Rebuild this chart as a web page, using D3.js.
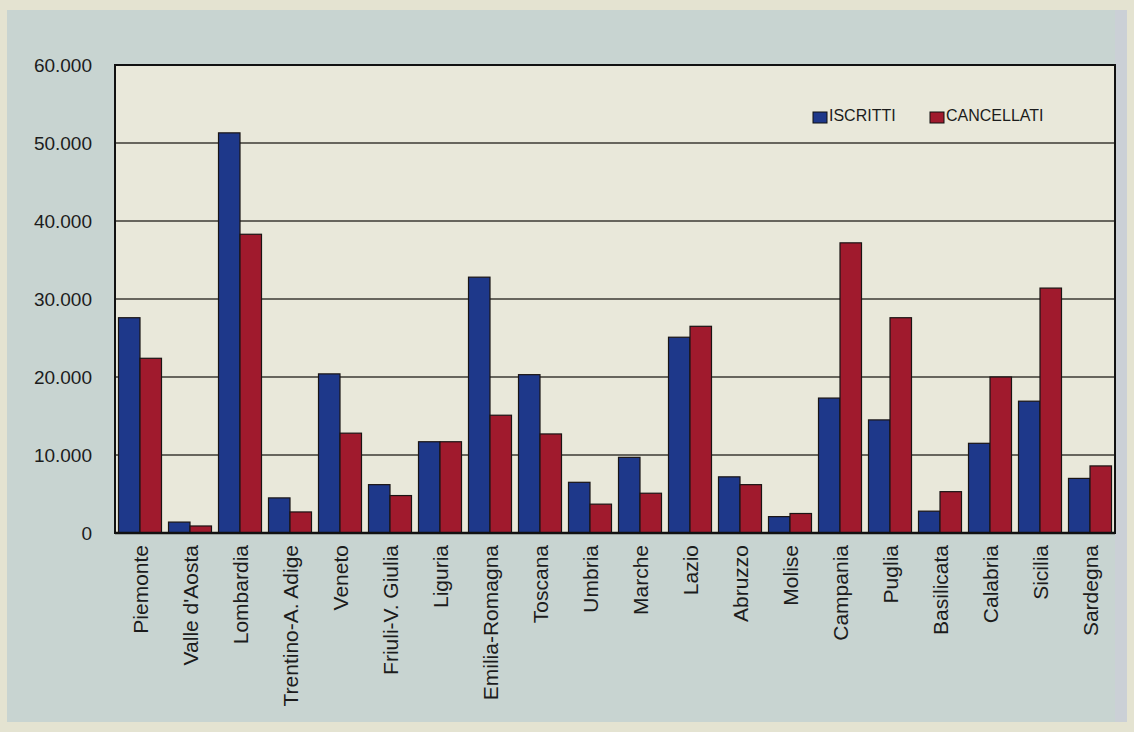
<!DOCTYPE html>
<html>
<head>
<meta charset="utf-8">
<script src="https://cdn.jsdelivr.net/npm/d3@7"></script>
<style>
  html, body { margin: 0; padding: 0; background: #e4e3d1; }
  svg { display: block; }
</style>
</head>
<body>
<svg id="chart" width="1134" height="732"></svg>
<script>
const regions = ["Piemonte","Valle d'Aosta","Lombardia","Trentino-A. Adige","Veneto","Friuli-V. Giulia","Liguria","Emilia-Romagna","Toscana","Umbria","Marche","Lazio","Abruzzo","Molise","Campania","Puglia","Basilicata","Calabria","Sicilia","Sardegna"];
const iscritti = [27600, 1400, 51300, 4500, 20400, 6200, 11700, 32800, 20300, 6500, 9700, 25100, 7200, 2100, 17300, 14500, 2800, 11500, 16900, 7000];
const cancellati = [22400, 900, 38300, 2700, 12800, 4800, 11700, 15100, 12700, 3700, 5100, 26500, 6200, 2500, 37200, 27600, 5300, 20000, 31400, 8600];
const seriesNames = ["ISCRITTI", "CANCELLATI"];
const seriesColors = ["#1e388a", "#a01a2d"];
const yTicks = [0, 10000, 20000, 30000, 40000, 50000, 60000];

const svg = d3.select("#chart");
const W = 1134, H = 732;
const plot = {left: 115, right: 1115, top: 65, bottom: 533};
const font = "'Liberation Sans', Arial, Helvetica, sans-serif";

// outer panel
svg.append("rect").attr("x", 0).attr("y", 0).attr("width", W).attr("height", H).attr("fill", "#e4e3d1");
svg.append("rect").attr("x", 7).attr("y", 10).attr("width", 1120).attr("height", 712).attr("fill", "#c8d4d1");
svg.append("rect").attr("x", 1115).attr("y", 10).attr("width", 12).attr("height", 712).attr("fill", "#cbd0d6");

// plot background
svg.append("rect").attr("x", plot.left).attr("y", plot.top)
  .attr("width", plot.right - plot.left).attr("height", plot.bottom - plot.top)
  .attr("fill", "#e9e8da");

const x0 = d3.scaleBand().domain(regions).range([plot.left, plot.right]).paddingInner(0.14).paddingOuter(0.07);
const x1 = d3.scaleBand().domain(seriesNames).range([0, x0.bandwidth()]).padding(0);
const y = d3.scaleLinear().domain([0, 60000]).range([plot.bottom, plot.top]);

const itLocale = d3.formatLocale({decimal: ",", thousands: ".", grouping: [3], currency: ["€", ""]});
const fmt = itLocale.format(",d");

// gridlines
svg.append("g").selectAll("line").data(yTicks.filter(d => d > 0 && d < 60000)).join("line")
  .attr("x1", plot.left).attr("x2", plot.right)
  .attr("y1", d => y(d)).attr("y2", d => y(d))
  .attr("stroke", "#3b3a33").attr("stroke-width", 1.6);

// y axis labels via d3 axis
const yAxis = d3.axisLeft(y).tickValues(yTicks).tickFormat(fmt).tickSize(0).tickPadding(23);
const gy = svg.append("g").attr("transform", `translate(${plot.left},0)`).call(yAxis);
gy.select(".domain").remove();
gy.selectAll("text").attr("font-family", font).attr("font-size", 19).attr("fill", "#1c1c1c");

// bars
const data = regions.map((r, i) => ({region: r, values: [iscritti[i], cancellati[i]]}));
const groups = svg.append("g").selectAll("g").data(data).join("g")
  .attr("transform", d => `translate(${x0(d.region)},0)`);
groups.selectAll("rect").data(d => d.values.map((v, j) => ({name: seriesNames[j], value: v, j}))).join("rect")
  .attr("x", d => x1(d.name))
  .attr("y", d => y(d.value))
  .attr("width", x1.bandwidth())
  .attr("height", d => y(0) - y(d.value))
  .attr("fill", d => seriesColors[d.j])
  .attr("stroke", "#1a1414").attr("stroke-width", 1.2);

// x axis labels
const xAxis = d3.axisBottom(x0).tickSize(0).tickPadding(12);
const gx = svg.append("g").attr("transform", `translate(0,${plot.bottom})`).call(xAxis);
gx.select(".domain").remove();
gx.selectAll("text")
  .attr("font-family", font).attr("font-size", 21).attr("fill", "#1c1c1c")
  .attr("text-anchor", "end")
  .attr("transform", "rotate(-90)")
  .attr("x", -12).attr("y", 0).attr("dy", "0.36em");

// plot border
svg.append("rect").attr("x", plot.left).attr("y", plot.top)
  .attr("width", plot.right - plot.left).attr("height", plot.bottom - plot.top)
  .attr("fill", "none").attr("stroke", "#111").attr("stroke-width", 2);
svg.append("line").attr("x1", plot.left).attr("x2", plot.right)
  .attr("y1", plot.bottom).attr("y2", plot.bottom).attr("stroke", "#111").attr("stroke-width", 2.5);

// legend
const legendX = [813, 930];
const lg = svg.append("g");
seriesNames.forEach((n, i) => {
  lg.append("rect").attr("x", legendX[i]).attr("y", 112).attr("width", 14).attr("height", 11)
    .attr("fill", seriesColors[i]).attr("stroke", "#111").attr("stroke-width", 1);
  lg.append("text").attr("x", legendX[i] + 16).attr("y", 120.5)
    .attr("font-family", font).attr("font-size", 16).attr("fill", "#1c1c1c").text(n);
});
</script>
</body>
</html>
